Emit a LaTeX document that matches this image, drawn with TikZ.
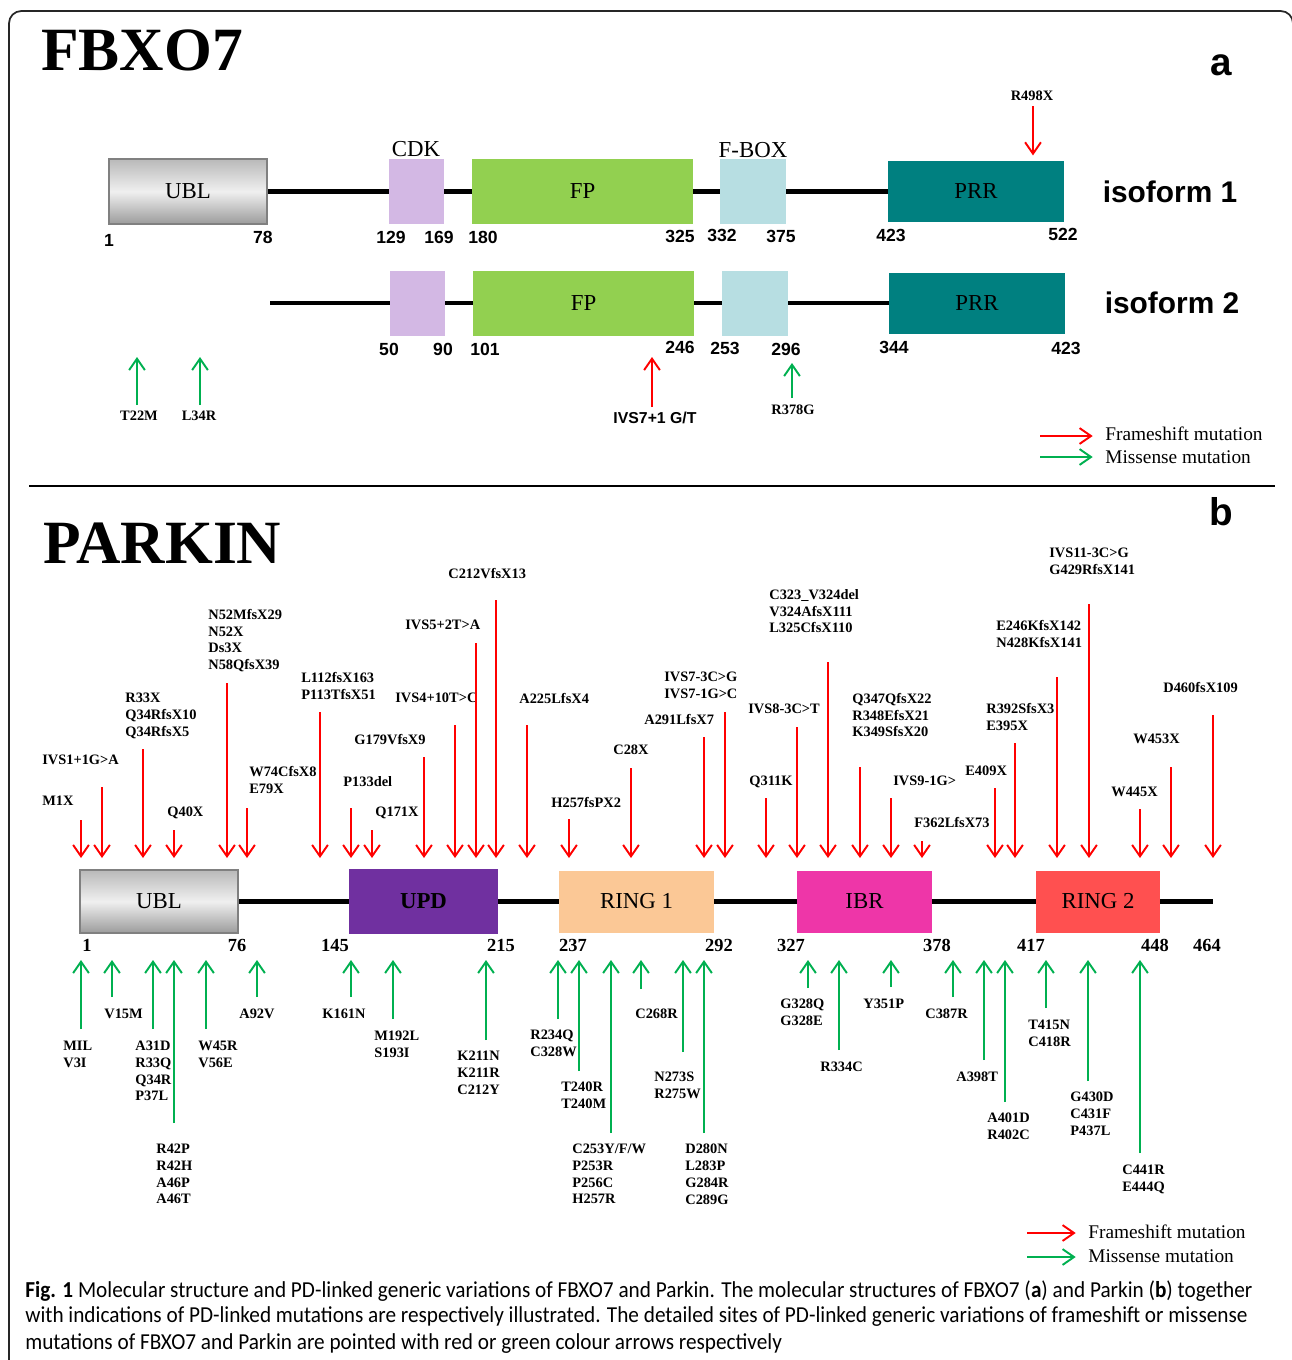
\documentclass[tikz,border=0pt]{standalone}
\usepackage{fontspec}
\setmainfont{Liberation Serif}
\setsansfont{Liberation Sans}
\newfontfamily\capfont[FakeStretch=0.93]{Carlito}
\usepackage{tikz}
\usetikzlibrary{arrows.meta}

\definecolor{cdkpurple}{RGB}{211,184,228}
\definecolor{fpgreen}{RGB}{146,208,80}
\definecolor{fboxblue}{RGB}{183,222,226}
\definecolor{prrteal}{RGB}{0,128,128}
\definecolor{updpurple}{RGB}{112,48,160}
\definecolor{ringpeach}{RGB}{251,200,150}
\definecolor{ibrpink}{RGB}{238,54,168}
\definecolor{ringred}{RGB}{255,80,80}
\definecolor{fsred}{RGB}{255,0,0}
\definecolor{msgreen}{RGB}{0,176,80}

\begin{document}
\begin{tikzpicture}[
    x=0.02cm, y=-0.02cm,
    frame/.style={draw=black!85, line width=1pt, rounded corners=7pt},
    link/.style={line width=2.4pt},
    dom/.style={inner sep=0pt, minimum height=1.3cm, font=\fontsize{13}{15}\selectfont},
    ubl/.style={dom, draw=gray, line width=1.6pt, top color=gray!55, bottom color=gray!78, middle color=gray!12},
    title/.style={anchor=west, inner sep=0pt, font=\fontsize{35}{40}\selectfont\bfseries},
    panel/.style={inner sep=0pt, font=\sffamily\bfseries\fontsize{22}{24}\selectfont},
    iso/.style={inner sep=0pt, font=\sffamily\bfseries\fontsize{17}{20}\selectfont},
    numa/.style={inner sep=0pt, font=\sffamily\bfseries\fontsize{10}{12}\selectfont},
    numb/.style={inner sep=0pt, font=\fontsize{10.5}{12}\selectfont\bfseries},
    tag/.style={inner sep=0pt, font=\fontsize{13}{15}\selectfont},
    mut/.style={anchor=north west, inner sep=0pt, align=left, font=\fontsize{8.2}{9.5}\selectfont\bfseries},
    mutc/.style={inner sep=0pt, font=\fontsize{8.2}{9.5}\selectfont\bfseries},
    leg/.style={anchor=west, inner sep=0pt, font=\fontsize{11}{12}\selectfont},
    fs/.style={draw=fsred, line width=1.1pt, -{Straight Barb[length=6.5pt, width=9pt]}},
    ms/.style={draw=msgreen, line width=1.1pt, -{Straight Barb[length=6.5pt, width=9pt]}},
    capline/.style={anchor=west, inner sep=0pt, font=\capfont\fontsize{13}{15}\selectfont}
  ]
  \useasboundingbox (0,0) rectangle (1292,1360);

  % Frame and divider
  \draw[frame] (9,1420) -- (9,11) -- (1293,11) -- (1293,1420);
  \coordinate (divl) at (29,486);
  \coordinate (divr) at (1275,486);
  \draw[line width=1.4pt] (divl) -- (divr);

  % ---------------- FBXO7 ----------------
  \node[title] (fbxo) at (41,50) {FBXO7};
  \node[panel] (pa) at (1221,65) {a};

  % isoform 1
  \node[ubl, minimum width=3.16cm] (ubla) at (188,191.5) {UBL};
  \node[dom, fill=cdkpurple, minimum width=1.1cm] (cdka) at (416.5,191.5) {};
  \node[dom, fill=fpgreen, minimum width=4.42cm] (fpa) at (582.5,191.5) {FP};
  \node[dom, fill=fboxblue, minimum width=1.32cm] (fboxa) at (753,191.5) {};
  \node[dom, fill=prrteal, minimum width=3.52cm, minimum height=1.22cm] (prra) at (976,191.5) {PRR};
  \node[tag] (cdklbl) at (416,149) {CDK};
  \node[tag] (fboxlbl) at (753,150) {F-BOX};
  \node[iso] (iso1) at (1170,192) {isoform 1};

  \draw[link] (ubla.east) -- (cdka.west);
  \draw[link] (cdka.east) -- (fpa.west);
  \draw[link] (fpa.east) -- (fboxa.west);
  \draw[link] (fboxa.east) -- (prra.west);

  \node[numa] (n1a) at (109,240) {1};
  \node[numa] (n78a) at (263,237) {78};
  \node[numa] (n129a) at (391,237) {129};
  \node[numa] (n169a) at (439,237) {169};
  \node[numa] (n180a) at (483,237) {180};
  \node[numa] (n325a) at (680,236) {325};
  \node[numa] (n332a) at (722,235) {332};
  \node[numa] (n375a) at (781,236) {375};
  \node[numa] (n423a) at (891,235) {423};
  \node[numa] (n522a) at (1063,234) {522};

  % isoform 2
  \coordinate (iso2start) at (270,303);
  \node[dom, fill=cdkpurple, minimum width=1.1cm] (cdkb) at (417.5,303) {};
  \node[dom, fill=fpgreen, minimum width=4.42cm] (fpb) at (583.5,303) {FP};
  \node[dom, fill=fboxblue, minimum width=1.32cm] (fboxb) at (755,303) {};
  \node[dom, fill=prrteal, minimum width=3.52cm, minimum height=1.22cm] (prrb) at (977,303) {PRR};
  \node[iso] (iso2) at (1172,303) {isoform 2};

  \draw[link] (iso2start) -- (cdkb.west);
  \draw[link] (cdkb.east) -- (fpb.west);
  \draw[link] (fpb.east) -- (fboxb.west);
  \draw[link] (fboxb.east) -- (prrb.west);

  \node[numa] (n50b) at (389,349) {50};
  \node[numa] (n90b) at (443,349) {90};
  \node[numa] (n101b) at (485,349) {101};
  \node[numa] (n246b) at (680,347) {246};
  \node[numa] (n253b) at (725,348) {253};
  \node[numa] (n296b) at (786,349) {296};
  \node[numa] (n344b) at (894,347) {344};
  \node[numa] (n423b) at (1066,348) {423};

  % FBXO7 mutations
  \node[mutc] (lR498X) at (1032,96) {R498X};
  \coordinate (aR498X) at (1033,106);
  \draw[fs] (aR498X) -- (aR498X |- prra.north) [shorten >=3pt];

  \coordinate (fbtip) at (0,357);
  \coordinate (fbtip2) at (0,363);
  \node[mutc] (lT22M) at (139,416) {T22M};
  \node[mutc] (lL34R) at (199,416) {L34R};
  \node[inner sep=0pt, font=\sffamily\bfseries\fontsize{9}{11}\selectfont] (lIVS7a) at (655,418) {IVS7+1 G/T};
  \node[mutc] (lR378G) at (793,410) {R378G};
  \coordinate (aT22M) at (137,405);
  \coordinate (aL34R) at (200,405);
  \coordinate (aIVS7a) at (652,407);
  \coordinate (aR378G) at (792,398);
  \draw[ms] (aT22M) -- (aT22M |- fbtip);
  \draw[ms] (aL34R) -- (aL34R |- fbtip);
  \draw[fs] (aIVS7a) -- (aIVS7a |- fbtip);
  \draw[ms] (aR378G) -- (aR378G |- fbtip2);

  % legend a
  \node[leg] (legfsa) at (1105,434) {Frameshift mutation};
  \node[leg] (legmsa) at (1105,457) {Missense mutation};
  \coordinate (legfsa-a) at (1040,436);
  \coordinate (legmsa-a) at (1040,457);
  \draw[fs, shorten >=7pt] (legfsa-a) -- (legfsa-a -| legfsa.west);
  \draw[ms, shorten >=7pt] (legmsa-a) -- (legmsa-a -| legmsa.west);

  % ---------------- PARKIN ----------------
  \node[title] (parkin) at (43,543) {PARKIN};
  \node[panel] (pb) at (1221,512) {b};

  \node[ubl, minimum width=3.16cm, minimum height=1.26cm] (ublp) at (159,901.5) {UBL};
  \node[dom, fill=updpurple, minimum width=2.98cm, minimum height=1.3cm, font=\fontsize{13}{15}\selectfont\bfseries] (upd) at (423.5,901.5) {UPD};
  \node[dom, fill=ringpeach, minimum width=3.1cm, minimum height=1.24cm] (ring1) at (636.5,901.5) {RING 1};
  \node[dom, fill=ibrpink, minimum width=2.7cm, minimum height=1.24cm] (ibr) at (864.5,901.5) {IBR};
  \node[dom, fill=ringred, minimum width=2.48cm, minimum height=1.24cm] (ring2) at (1098,901.5) {RING 2};
  \coordinate (pend) at (1213,901.5);

  \draw[link] (ublp.east) -- (upd.west);
  \draw[link] (upd.east) -- (ring1.west);
  \draw[link] (ring1.east) -- (ibr.west);
  \draw[link] (ibr.east) -- (ring2.west);
  \draw[link] (ring2.east) -- (pend);

  \node[numb] (p1) at (87,945) {1};
  \node[numb] (p76) at (237,945) {76};
  \node[numb] (p145) at (335,945) {145};
  \node[numb] (p215) at (501,945) {215};
  \node[numb] (p237) at (573,945) {237};
  \node[numb] (p292) at (719,945) {292};
  \node[numb] (p327) at (791,945) {327};
  \node[numb] (p378) at (937,945) {378};
  \node[numb] (p417) at (1031,945) {417};
  \node[numb] (p448) at (1155,945) {448};
  \node[numb] (p464) at (1207,945) {464};

  % frameshift labels
  \node[mut] (lM1X) at (42,796) {M1X};
  \node[mut] (lIVS1) at (42,755) {IVS1+1G>A};
  \node[mut] (lR33X) at (125,693) {R33X\\Q34RfsX10\\Q34RfsX5};
  \node[mut] (lQ40X) at (167,807) {Q40X};
  \node[mut] (lN52M) at (208,609) {N52MfsX29\\N52X\\Ds3X\\N58QfsX39};
  \node[mut] (lW74C) at (249,766) {W74CfsX8\\E79X};
  \node[mut] (lL112) at (301,672) {L112fsX163\\P113TfsX51};
  \node[mut] (lP133) at (343,776) {P133del};
  \node[mut] (lQ171) at (375,807) {Q171X};
  \node[mut] (lG179) at (354,734) {G179VfsX9};
  \node[mut] (lIVS4) at (395,693) {IVS4+10T>C};
  \node[mut] (lIVS5) at (405,620) {IVS5+2T>A};
  \node[mut] (lC212) at (448,568) {C212VfsX13};
  \node[mut] (lA225) at (519,693) {A225LfsX4};
  \node[mut] (lH257) at (551,797) {H257fsPX2};
  \node[mut] (lC28X) at (613,745) {C28X};
  \node[mut] (lIVS7) at (664,672) {IVS7-3C>G\\IVS7-1G>C};
  \node[mut] (lA291) at (644,714) {A291LfsX7};
  \node[mut] (lQ311) at (749,776) {Q311K};
  \node[mut] (lIVS8) at (748,704) {IVS8-3C>T};
  \node[mut] (lC323) at (769,589) {C323\_V324del\\V324AfsX111\\L325CfsX110};
  \node[mut] (lQ347) at (852,693) {Q347QfsX22\\R348EfsX21\\K349SfsX20};
  \node[mut] (lIVS9) at (893,776) {IVS9-1G>};
  \node[mut] (lF362) at (914,817) {F362LfsX73};
  \node[mut] (lE409) at (965,766) {E409X};
  \node[mut] (lR392) at (986,703) {R392SfsX3\\E395X};
  \node[mut] (lE246) at (996,620) {E246KfsX142\\N428KfsX141};
  \node[mut] (lIVS11) at (1049,548) {IVS11-3C>G\\G429RfsX141};
  \node[mut] (lW445) at (1111,787) {W445X};
  \node[mut] (lW453) at (1133,734) {W453X};
  \node[mut] (lD460) at (1163,682) {D460fsX109};

  % frameshift arrows
  \coordinate (fstip) at (0,858);
  \coordinate (aM1X) at (81,820);
  \coordinate (aIVS1) at (102,787);
  \coordinate (aR33X) at (143,749);
  \coordinate (aQ40X) at (174,830);
  \coordinate (aN52M) at (227,683);
  \coordinate (aW74C) at (247,808);
  \coordinate (aL112) at (320,712);
  \coordinate (aP133) at (351,808);
  \coordinate (aQ171) at (372,830);
  \coordinate (aG179) at (424,757);
  \coordinate (aIVS4) at (455,725);
  \coordinate (aIVS5) at (476,643);
  \coordinate (aC212) at (496,600);
  \coordinate (aA225) at (527,725);
  \coordinate (aH257) at (569,819);
  \coordinate (aC28X) at (631,768);
  \coordinate (aA291) at (704,737);
  \coordinate (aIVS7) at (725,712);
  \coordinate (aQ311) at (766,798);
  \coordinate (aIVS8) at (797,727);
  \coordinate (aC323) at (828,662);
  \coordinate (aQ347) at (860,767);
  \coordinate (aIVS9) at (891,798);
  \coordinate (aF362) at (922,841);
  \coordinate (aE409) at (995,788);
  \coordinate (aR392) at (1015,743);
  \coordinate (aE246) at (1057,677);
  \coordinate (aIVS11) at (1089,604);
  \coordinate (aW445) at (1140,809);
  \coordinate (aW453) at (1171,767);
  \coordinate (aD460) at (1213,715);

  \draw[fs] (aM1X) -- (aM1X |- fstip);
  \draw[fs] (aIVS1) -- (aIVS1 |- fstip);
  \draw[fs] (aR33X) -- (aR33X |- fstip);
  \draw[fs] (aQ40X) -- (aQ40X |- fstip);
  \draw[fs] (aN52M) -- (aN52M |- fstip);
  \draw[fs] (aW74C) -- (aW74C |- fstip);
  \draw[fs] (aL112) -- (aL112 |- fstip);
  \draw[fs] (aP133) -- (aP133 |- fstip);
  \draw[fs] (aQ171) -- (aQ171 |- fstip);
  \draw[fs] (aG179) -- (aG179 |- fstip);
  \draw[fs] (aIVS4) -- (aIVS4 |- fstip);
  \draw[fs] (aIVS5) -- (aIVS5 |- fstip);
  \draw[fs] (aC212) -- (aC212 |- fstip);
  \draw[fs] (aA225) -- (aA225 |- fstip);
  \draw[fs] (aH257) -- (aH257 |- fstip);
  \draw[fs] (aC28X) -- (aC28X |- fstip);
  \draw[fs] (aA291) -- (aA291 |- fstip);
  \draw[fs] (aIVS7) -- (aIVS7 |- fstip);
  \draw[fs] (aQ311) -- (aQ311 |- fstip);
  \draw[fs] (aIVS8) -- (aIVS8 |- fstip);
  \draw[fs] (aC323) -- (aC323 |- fstip);
  \draw[fs] (aQ347) -- (aQ347 |- fstip);
  \draw[fs] (aIVS9) -- (aIVS9 |- fstip);
  \draw[fs] (aF362) -- (aF362 |- fstip);
  \draw[fs] (aE409) -- (aE409 |- fstip);
  \draw[fs] (aR392) -- (aR392 |- fstip);
  \draw[fs] (aE246) -- (aE246 |- fstip);
  \draw[fs] (aIVS11) -- (aIVS11 |- fstip);
  \draw[fs] (aW445) -- (aW445 |- fstip);
  \draw[fs] (aW453) -- (aW453 |- fstip);
  \draw[fs] (aD460) -- (aD460 |- fstip);

  % missense labels
  \node[mut] (lMIL) at (63,1041) {MIL\\V3I};
  \node[mut] (lV15M) at (104,1009) {V15M};
  \node[mut] (lA31D) at (135,1041) {A31D\\R33Q\\Q34R\\P37L};
  \node[mut] (lR42P) at (156,1144) {R42P\\R42H\\A46P\\A46T};
  \node[mut] (lW45R) at (198,1041) {W45R\\V56E};
  \node[mut] (lA92V) at (239,1009) {A92V};
  \node[mut] (lK161) at (322,1009) {K161N};
  \node[mut] (lM192) at (374,1031) {M192L\\S193I};
  \node[mut] (lK211) at (457,1051) {K211N\\K211R\\C212Y};
  \node[mut] (lR234) at (530,1030) {R234Q\\C328W};
  \node[mut] (lT240) at (561,1082) {T240R\\T240M};
  \node[mut] (lC253) at (572,1144) {C253Y/F/W\\P253R\\P256C\\H257R};
  \node[mut] (lC268) at (635,1009) {C268R};
  \node[mut] (lN273) at (654,1072) {N273S\\R275W};
  \node[mut] (lD280) at (685,1144) {D280N\\L283P\\G284R\\C289G};
  \node[mut] (lG328) at (780,999) {G328Q\\G328E};
  \node[mut] (lR334) at (820,1062) {R334C};
  \node[mut] (lY351) at (863,999) {Y351P};
  \node[mut] (lC387) at (925,1009) {C387R};
  \node[mut] (lA398) at (956,1072) {A398T};
  \node[mut] (lA401) at (987,1113) {A401D\\R402C};
  \node[mut] (lT415) at (1028,1020) {T415N\\C418R};
  \node[mut] (lG430) at (1070,1092) {G430D\\C431F\\P437L};
  \node[mut] (lC441) at (1122,1165) {C441R\\E444Q};

  % missense arrows
  \coordinate (mstip) at (0,960);
  \coordinate (bMIL) at (81,1029);
  \coordinate (bV15M) at (112,997);
  \coordinate (bA31D) at (153,1029);
  \coordinate (bR42P) at (174,1123);
  \coordinate (bW45R) at (206,1029);
  \coordinate (bA92V) at (257,997);
  \coordinate (bK161) at (351,997);
  \coordinate (bM192) at (393,1019);
  \coordinate (bK211) at (486,1040);
  \coordinate (bR234) at (558,1019);
  \coordinate (bT240) at (579,1071);
  \coordinate (bC253) at (611,1133);
  \coordinate (bC268) at (641,989);
  \coordinate (bN273) at (683,1052);
  \coordinate (bD280) at (704,1133);
  \coordinate (bG328) at (808,988);
  \coordinate (bR334) at (839,1050);
  \coordinate (bY351) at (891,987);
  \coordinate (bC387) at (953,997);
  \coordinate (bA398) at (984,1060);
  \coordinate (bA401) at (1005,1102);
  \coordinate (bT415) at (1046,1008);
  \coordinate (bG430) at (1088,1081);
  \coordinate (bC441) at (1140,1153);

  \draw[ms] (bMIL) -- (bMIL |- mstip);
  \draw[ms] (bV15M) -- (bV15M |- mstip);
  \draw[ms] (bA31D) -- (bA31D |- mstip);
  \draw[ms] (bR42P) -- (bR42P |- mstip);
  \draw[ms] (bW45R) -- (bW45R |- mstip);
  \draw[ms] (bA92V) -- (bA92V |- mstip);
  \draw[ms] (bK161) -- (bK161 |- mstip);
  \draw[ms] (bM192) -- (bM192 |- mstip);
  \draw[ms] (bK211) -- (bK211 |- mstip);
  \draw[ms] (bR234) -- (bR234 |- mstip);
  \draw[ms] (bT240) -- (bT240 |- mstip);
  \draw[ms] (bC253) -- (bC253 |- mstip);
  \draw[ms] (bC268) -- (bC268 |- mstip);
  \draw[ms] (bN273) -- (bN273 |- mstip);
  \draw[ms] (bD280) -- (bD280 |- mstip);
  \draw[ms] (bG328) -- (bG328 |- mstip);
  \draw[ms] (bR334) -- (bR334 |- mstip);
  \draw[ms] (bY351) -- (bY351 |- mstip);
  \draw[ms] (bC387) -- (bC387 |- mstip);
  \draw[ms] (bA398) -- (bA398 |- mstip);
  \draw[ms] (bA401) -- (bA401 |- mstip);
  \draw[ms] (bT415) -- (bT415 |- mstip);
  \draw[ms] (bG430) -- (bG430 |- mstip);
  \draw[ms] (bC441) -- (bC441 |- mstip);

  % legend b
  \node[leg] (legfsb) at (1088,1232) {Frameshift mutation};
  \node[leg] (legmsb) at (1088,1256) {Missense mutation};
  \coordinate (legfsb-a) at (1027,1233);
  \coordinate (legmsb-a) at (1027,1257);
  \draw[fs, shorten >=7pt] (legfsb-a) -- (legfsb-a -| legfsb.west);
  \draw[ms, shorten >=7pt] (legmsb-a) -- (legmsb-a -| legmsb.west);

  % caption
  \node[capline] (cap1) at (25,1291) {\textbf{Fig. 1} Molecular structure and PD-linked generic variations of FBXO7 and Parkin. The molecular structures of FBXO7 (\textbf{a}) and Parkin (\textbf{b}) together};
  \node[capline] (cap2) at (25,1317) {with indications of PD-linked mutations are respectively illustrated. The detailed sites of PD-linked generic variations of frameshift or missense};
  \node[capline] (cap3) at (25,1344) {mutations of FBXO7 and Parkin are pointed with red or green colour arrows respectively};
\end{tikzpicture}
\end{document}
